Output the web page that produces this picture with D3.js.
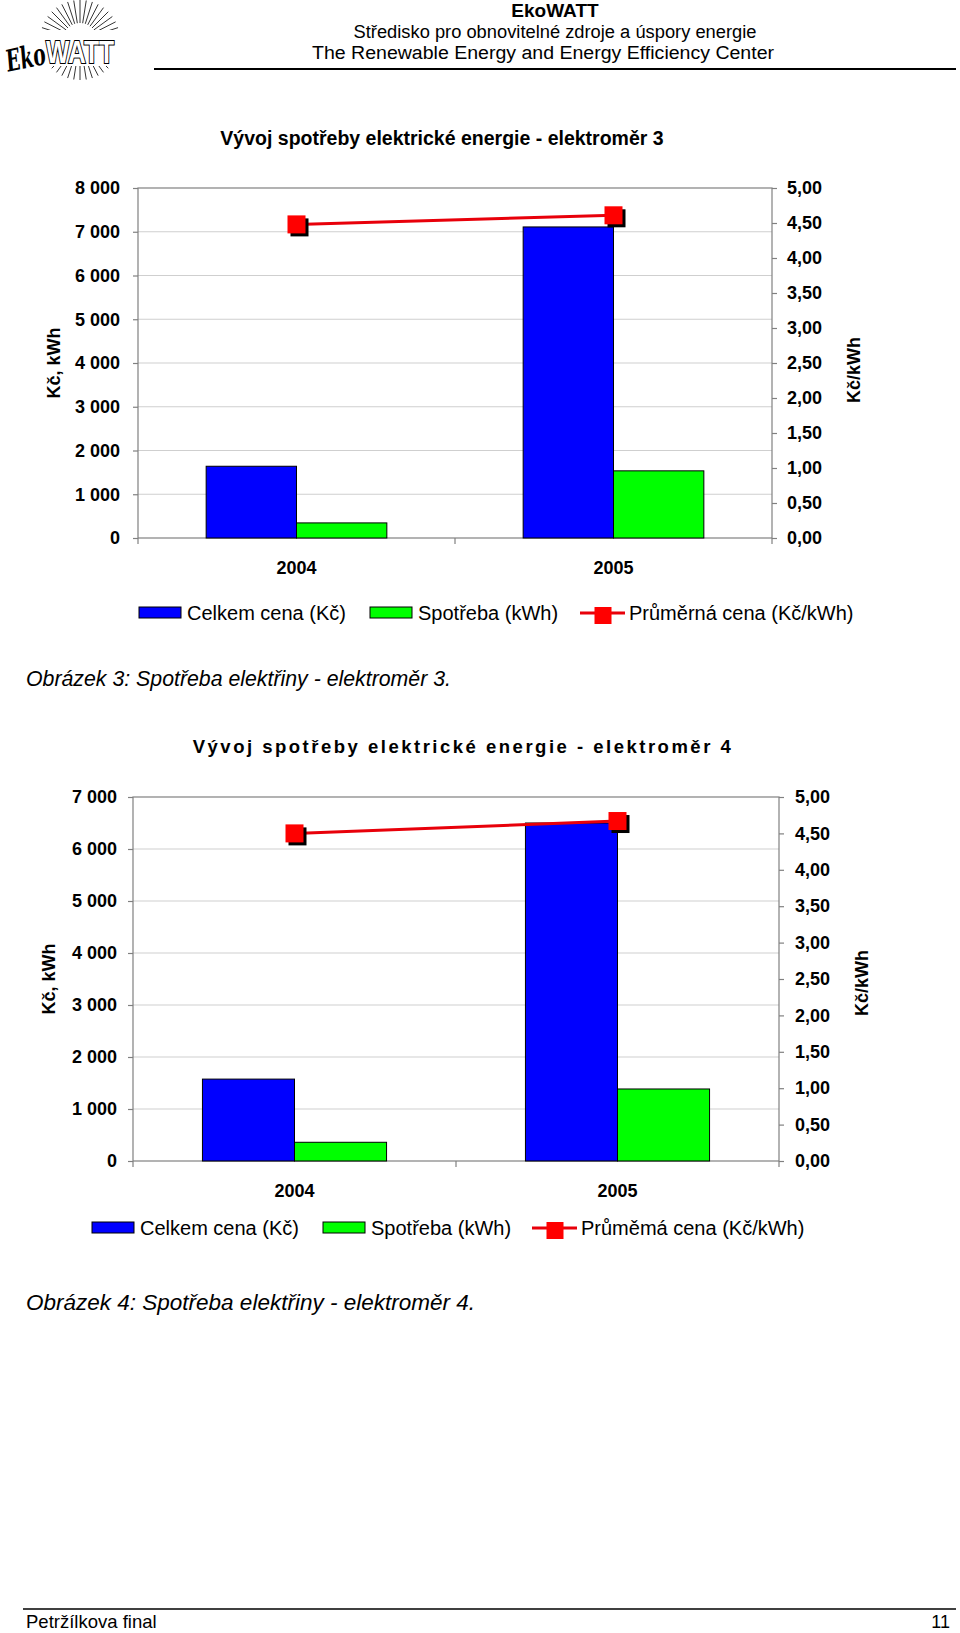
<!DOCTYPE html>
<html>
<head>
<meta charset="utf-8">
<script src="https://cdn.jsdelivr.net/npm/d3@7"></script>
<style>
  body { margin: 0; background: #fff; }
  svg { display: block; }
</style>
</head>
<body>
<script>
// data
const years = ["2004", "2005"];
const series = ["Celkem cena (Kč)", "Spotřeba (kWh)"];

const celkem3 = [1640, 7110];
const spotreba3 = [345, 1535];
const cena3 = [4.48, 4.61];

const celkem4 = [1575, 6500];
const spotreba4 = [360, 1385];
const cena4 = [4.50, 4.67];

const leftTicks3 = [0, 1000, 2000, 3000, 4000, 5000, 6000, 7000, 8000];
const leftTicks4 = [0, 1000, 2000, 3000, 4000, 5000, 6000, 7000];
const rightTicks = [0, 0.5, 1, 1.5, 2, 2.5, 3, 3.5, 4, 4.5, 5];

const W = 960, H = 1633;
const FONT = "'Liberation Sans', Arial, Helvetica, sans-serif";

const svg = d3.select("body").append("svg")
    .attr("width", W)
    .attr("height", H)
    .style("font-family", FONT);

const loc = d3.formatLocale({ decimal: ",", thousands: " ", grouping: [3], currency: ["", ""] });
const fmtLeft = loc.format(",d");
const fmtRight = loc.format(".2f");

// --- header ---
drawLogo(svg.append("g"));

const head = svg.append("g").attr("text-anchor", "middle");
head.append("text").attr("x", 555).attr("y", 17)
    .style("font-size", "19px").style("font-weight", "bold").text("EkoWATT");
head.append("text").attr("x", 555).attr("y", 38)
    .style("font-size", "18px")
    .attr("textLength", 403).attr("lengthAdjust", "spacingAndGlyphs")
    .text("Středisko pro obnovitelné zdroje a úspory energie");
head.append("text").attr("x", 543).attr("y", 59)
    .style("font-size", "18px")
    .attr("textLength", 462).attr("lengthAdjust", "spacingAndGlyphs")
    .text("The Renewable Energy and Energy Efficiency Center");
svg.append("line").attr("x1", 154).attr("x2", 956).attr("y1", 69).attr("y2", 69)
    .attr("stroke", "#000").attr("stroke-width", 2);

// --- chart 1 ---
chart({
  title: "Vývoj spotřeby elektrické energie - elektroměr 3",
  titleX: 442, titleY: 145, titleSize: 19.5, titleSpacing: 0,
  left: 138, right: 772, top: 188, bottom: 538,
  yMax: 8000, leftTicks: leftTicks3,
  leftPad: 13, rightPad: 10,
  celkem: celkem3, spotreba: spotreba3, cena: cena3,
  leftTitleX: 54, rightTitleX: 854, leftTitleY: 363, rightTitleY: 370,
  legendY: 613,
  legendX: [139, 370, 580],
  lineLabel: "Průměrná cena (Kč/kWh)"
});

svg.append("text").attr("x", 26).attr("y", 686)
    .style("font-size", "21.3px").style("font-style", "italic")
    .text("Obrázek 3: Spotřeba elektřiny - elektroměr 3.");

// --- chart 2 ---
chart({
  title: "Vývoj spotřeby elektrické energie - elektroměr 4",
  titleX: 463, titleY: 753, titleSize: 18.5, titleSpacing: 2.5,
  left: 133, right: 779, top: 797, bottom: 1161,
  yMax: 7000, leftTicks: leftTicks4,
  leftPad: 11, rightPad: 11,
  celkem: celkem4, spotreba: spotreba4, cena: cena4,
  leftTitleX: 49, rightTitleX: 862, leftTitleY: 979, rightTitleY: 983,
  legendY: 1228,
  legendX: [92, 323, 532],
  lineLabel: "Průměmá cena (Kč/kWh)"
});

svg.append("text").attr("x", 26).attr("y", 1310)
    .style("font-size", "22.5px").style("font-style", "italic")
    .text("Obrázek 4: Spotřeba elektřiny - elektroměr 4.");

// --- footer ---
svg.append("line").attr("x1", 23).attr("x2", 956).attr("y1", 1609).attr("y2", 1609)
    .attr("stroke", "#000").attr("stroke-width", 1.5);
svg.append("text").attr("x", 26).attr("y", 1628)
    .style("font-size", "18.5px").text("Petržílkova final");
svg.append("text").attr("x", 950).attr("y", 1628).attr("text-anchor", "end")
    .style("font-size", "18px").text("11");


function chart(c) {
  const g = svg.append("g");

  const x = d3.scaleBand().domain(years).range([c.left, c.right]);
  const bw = x.bandwidth();
  const xs = d3.scaleBand().domain(series).range([bw * 0.215, bw * 0.785]);
  const y = d3.scaleLinear().domain([0, c.yMax]).range([c.bottom, c.top]);
  const y2 = d3.scaleLinear().domain([0, 5]).range([c.bottom, c.top]);

  // title
  g.append("text")
      .attr("x", c.titleX).attr("y", c.titleY)
      .attr("text-anchor", "middle")
      .style("font-size", c.titleSize + "px").style("font-weight", "bold")
      .style("letter-spacing", c.titleSpacing + "px")
      .text(c.title);

  // gridlines
  g.append("g").selectAll("line")
    .data(c.leftTicks.slice(1, -1))
    .join("line")
      .attr("x1", c.left).attr("x2", c.right)
      .attr("y1", d => y(d)).attr("y2", d => y(d))
      .attr("stroke", "#cfcfcf").attr("stroke-width", 1);

  // frame
  g.append("rect")
      .attr("x", c.left).attr("y", c.top)
      .attr("width", c.right - c.left).attr("height", c.bottom - c.top)
      .attr("fill", "none").attr("stroke", "#808080").attr("stroke-width", 1.2);

  // left axis
  const ax = g.append("g")
      .attr("transform", "translate(" + c.left + ",0)")
      .call(d3.axisLeft(y).tickValues(c.leftTicks).tickFormat(fmtLeft)
        .tickSize(5).tickSizeOuter(0).tickPadding(c.leftPad));
  styleAxis(ax);

  // right axis
  const ay = g.append("g")
      .attr("transform", "translate(" + c.right + ",0)")
      .call(d3.axisRight(y2).tickValues(rightTicks).tickFormat(fmtRight)
        .tickSize(5).tickSizeOuter(0).tickPadding(c.rightPad));
  styleAxis(ay);

  // bottom axis labels
  const axb = g.append("g")
      .attr("transform", "translate(0," + c.bottom + ")")
      .call(d3.axisBottom(x).tickSize(0).tickPadding(23));
  styleAxis(axb);

  // category boundary ticks
  g.append("g").selectAll("line")
    .data([c.left, c.left + bw, c.right])
    .join("line")
      .attr("x1", d => d).attr("x2", d => d)
      .attr("y1", c.bottom).attr("y2", c.bottom + 6)
      .attr("stroke", "#808080").attr("stroke-width", 1.2);

  // bars
  const rows = years.map((yr, i) => ({ year: yr, vals: [c.celkem[i], c.spotreba[i]] }));
  const colors = ["#0000ff", "#00ff00"];
  g.append("g").selectAll("g")
    .data(rows)
    .join("g")
      .attr("transform", d => "translate(" + x(d.year) + ",0)")
    .selectAll("rect")
    .data(d => d.vals.map((v, k) => ({ key: series[k], v: v, k: k })))
    .join("rect")
      .attr("x", d => xs(d.key))
      .attr("width", xs.bandwidth())
      .attr("y", d => y(d.v))
      .attr("height", d => c.bottom - y(d.v))
      .attr("fill", d => colors[d.k])
      .attr("stroke", "#000").attr("stroke-width", 1);

  // line + markers
  const pts = years.map((yr, i) => ({ year: yr, v: c.cena[i] }));
  g.append("path")
      .datum(pts)
      .attr("fill", "none")
      .attr("stroke", "#e8000a").attr("stroke-width", 3)
      .attr("d", d3.line().x(d => x(d.year) + bw / 2).y(d => y2(d.v)));

  const m = 18;
  const mk = g.append("g").selectAll("g").data(pts).join("g")
      .attr("transform", d => "translate(" + (x(d.year) + bw / 2) + "," + y2(d.v) + ")");
  mk.append("rect").attr("x", -m / 2 + 3).attr("y", -m / 2 + 3).attr("width", m).attr("height", m)
      .attr("fill", "#000");
  mk.append("rect").attr("x", -m / 2).attr("y", -m / 2).attr("width", m).attr("height", m)
      .attr("fill", "#ff0000");

  // axis titles
  g.append("text")
      .attr("transform", "translate(" + c.leftTitleX + "," + c.leftTitleY + ") rotate(-90)")
      .attr("text-anchor", "middle").attr("dy", "0.35em")
      .style("font-size", "18px").style("font-weight", "bold")
      .text("Kč, kWh");
  g.append("text")
      .attr("transform", "translate(" + c.rightTitleX + "," + c.rightTitleY + ") rotate(-90)")
      .attr("text-anchor", "middle").attr("dy", "0.35em")
      .style("font-size", "18px").style("font-weight", "bold")
      .text("Kč/kWh");

  // legend
  const lg = g.append("g").style("font-size", "20px");
  for (let k = 0; k < 2; k++) {
    lg.append("rect")
        .attr("x", c.legendX[k]).attr("y", c.legendY - 6)
        .attr("width", 42).attr("height", 11)
        .attr("fill", colors[k]).attr("stroke", "#000").attr("stroke-width", 1);
    lg.append("text")
        .attr("x", c.legendX[k] + 48).attr("y", c.legendY).attr("dy", "0.35em")
        .text(series[k]);
  }
  const lx = c.legendX[2];
  lg.append("line")
      .attr("x1", lx).attr("x2", lx + 45)
      .attr("y1", c.legendY).attr("y2", c.legendY)
      .attr("stroke", "#e8000a").attr("stroke-width", 3);
  lg.append("rect")
      .attr("x", lx + 23 - 8.5).attr("y", c.legendY - 6)
      .attr("width", 17).attr("height", 17).attr("fill", "#ff0000");
  lg.append("text")
      .attr("x", lx + 49).attr("y", c.legendY).attr("dy", "0.35em")
      .text(c.lineLabel);
}

function styleAxis(a) {
  a.select(".domain").remove();
  a.selectAll(".tick line").attr("stroke", "#808080").attr("stroke-width", 1.2);
  a.selectAll(".tick text")
      .attr("fill", "#000")
      .style("font-family", FONT)
      .style("font-size", "18px")
      .style("font-weight", "bold");
}

function drawLogo(g) {
  // sun rays behind the lettering
  const cx = 80, cy = 40;
  const angles = d3.range(0, 360, 9);
  g.append("g").selectAll("line")
    .data(angles)
    .join("line")
      .attr("x1", a => cx + 17 * Math.cos(a * Math.PI / 180))
      .attr("y1", a => cy + 17 * Math.sin(a * Math.PI / 180))
      .attr("x2", a => cx + 40 * Math.cos(a * Math.PI / 180))
      .attr("y2", a => cy + 40 * Math.sin(a * Math.PI / 180))
      .attr("stroke", "#000").attr("stroke-width", 0.8);
  g.append("rect").attr("x", 4).attr("y", 30).attr("width", 116).attr("height", 36).attr("fill", "#fff");
  g.append("text")
      .attr("x", 5).attr("y", 68)
      .style("font-family", "'DejaVu Serif', serif")
      .style("font-style", "italic").style("font-weight", "bold")
      .style("font-size", "30px")
      .attr("textLength", 40).attr("lengthAdjust", "spacingAndGlyphs")
      .attr("transform", "rotate(-12 25 55)")
      .text("Eko");
  g.append("text")
      .attr("x", 46).attr("y", 63)
      .style("font-weight", "bold").style("font-size", "32px")
      .attr("fill", "#fff").attr("stroke", "#000").attr("stroke-width", 2.2)
      .style("paint-order", "stroke")
      .attr("textLength", 68).attr("lengthAdjust", "spacingAndGlyphs")
      .text("WATT");
}
</script>
</body>
</html>
